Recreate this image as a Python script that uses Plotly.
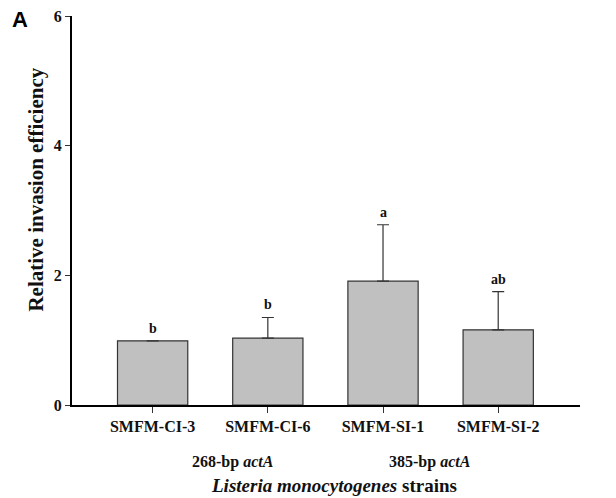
import plotly.graph_objects as go

strains = ["SMFM-CI-3", "SMFM-CI-6", "SMFM-SI-1", "SMFM-SI-2"]
efficiency = [0.99, 1.03, 1.91, 1.16]
err_upper = [0.0, 0.32, 0.87, 0.59]
letters = ["b", "b", "a", "ab"]
groups = ["268-bp <i>actA</i>", "385-bp <i>actA</i>"]
group_pos = [0.70, 2.41]
y_ticks = [0, 2, 4, 6]

SERIF = "Liberation Serif"
xs = list(range(len(strains)))

fig = go.Figure()
fig.add_trace(go.Bar(
    x=xs, y=efficiency, width=0.61,
    marker=dict(color="#c0c0c0", line=dict(color="#333333", width=1.2)),
    error_y=dict(type="data", array=err_upper, arrayminus=[0]*4, symmetric=False,
                 color="#333333", thickness=1.2, width=6),
    showlegend=False,
))

for i, (v, e, l) in enumerate(zip(efficiency, err_upper, letters)):
    fig.add_annotation(x=i, y=v + e, text=f"<b>{l}</b>", showarrow=False,
                       yanchor="bottom", yshift=3,
                       font=dict(family=SERIF, size=14, color="#111"))

for g, p in zip(groups, group_pos):
    fig.add_annotation(x=p, y=0, xref="x", yref="paper", text=f"<b>{g}</b>",
                       showarrow=False, yanchor="middle", yshift=-57,
                       font=dict(family=SERIF, size=16, color="#111"))

fig.add_annotation(x=0.515, y=0, xref="paper", yref="paper",
                   text="<b><i>Listeria monocytogenes</i> strains</b>",
                   showarrow=False, yanchor="middle", yshift=-80,
                   font=dict(family=SERIF, size=19, color="#111"))

fig.add_annotation(x=-0.07, y=0.555, xref="paper", yref="paper",
                   text="<b>Relative invasion efficiency</b>", textangle=-90,
                   showarrow=False, xanchor="center", yanchor="middle",
                   font=dict(family=SERIF, size=21, color="#111"))

fig.add_annotation(x=-0.102, y=0.99, xref="paper", yref="paper", text="<b>A</b>",
                   showarrow=False, xanchor="center", yanchor="middle",
                   font=dict(family="Liberation Sans", size=22, color="black"))

fig.update_xaxes(
    range=[-0.70, 3.71], tickmode="array", tickvals=xs,
    ticktext=[f"<b>{s}</b>" for s in strains],
    showline=True, linecolor="black", linewidth=2,
    ticks="outside", ticklen=6, tickcolor="#333", tickwidth=1,
    tickfont=dict(family=SERIF, size=16, color="#111"),
    showgrid=False, zeroline=False, automargin=False,
)
fig.update_yaxes(
    range=[0, 6], tickmode="array", tickvals=y_ticks,
    ticktext=[f"<b>{t}</b>" for t in y_ticks],
    showline=True, linecolor="black", linewidth=2,
    ticks="outside", ticklen=5, tickcolor="#333", tickwidth=1,
    tickfont=dict(family=SERIF, size=16, color="#111"),
    showgrid=False, zeroline=False, automargin=False,
    ticklabeloverflow="allow",
)

# page body has an 8px margin, so the figure is offset by 8px
fig.update_layout(
    width=608, height=490,
    margin=dict(l=64, r=36, t=8, b=93),
    plot_bgcolor="white", paper_bgcolor="white",
    bargap=0.39,
)

fig.write_html("out.html")
